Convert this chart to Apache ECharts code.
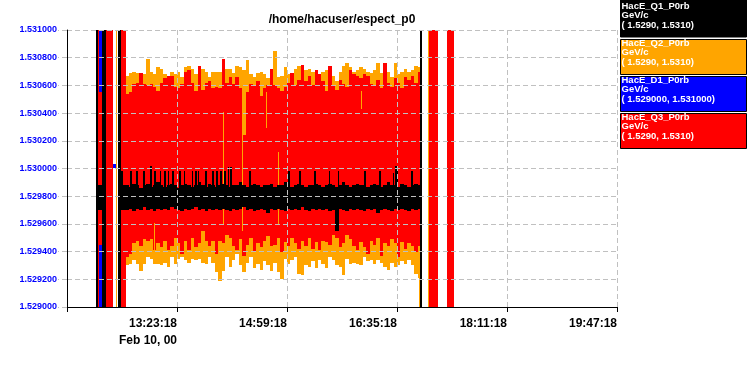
<!DOCTYPE html>
<html><head><meta charset="utf-8">
<script src="https://cdn.jsdelivr.net/npm/echarts@6/dist/echarts.min.js"></script>
<style>html,body{margin:0;padding:0;background:#fff;}#c{width:748px;height:375px;}</style>
</head><body><div id="c"></div>
<script>
// ---------- text ----------
const chartTitle = '/home/hacuser/espect_p0';
// x values are minutes after 11:47:18 (Feb 10, 00)
const xTickLabels = ['', '13:23:18', '14:59:18', '16:35:18', '18:11:18', '19:47:18'];
const xDateLabel = 'Feb 10, 00';
const yTickLabels = ['1.529000','1.529200','1.529400','1.529600','1.529800','1.530000','1.530200','1.530400','1.530600','1.530800','1.531000'];
const legendNames = ['HacE_Q1_P0rb', 'HacE_Q2_P0rb', 'HacE_D1_P0rb', 'HacE_Q3_P0rb'];
const legendUnits = ['GeV/c', 'GeV/c', 'GeV/c', 'GeV/c'];
const legendRanges = ['( 1.5290, 1.5310)', '( 1.5290, 1.5310)', '( 1.529000, 1.531000)', '( 1.5290, 1.5310)'];
const seriesColors = ['#000000', '#ffa500', '#0000ff', '#ff0000'];

// ---------- data: envelope of each 3-minute bin (min / max reading) ----------
const binStart = 51;
const binStep = 3;
const q3Hi = [1.53054,1.53055,1.53061,1.53062,1.53069,1.53061,1.53060,1.53061,1.53059,1.53056,1.53062,1.53065,1.53067,1.53067,1.53059,1.53058,1.53061,1.53070,1.53071,1.53062,1.53056,1.53074,1.53057,1.53062,1.53063,1.53058,1.53059,1.53058,
  1.53079,1.53062,1.53066,1.53061,1.53066,1.53058,1.53024,1.53055,1.53061,1.53060,1.53063,1.53052,1.53058,1.53060,1.53072,1.53060,1.53058,1.53056,1.53059,1.53062,1.53069,1.53060,1.53064,1.53075,1.53063,1.53067,1.53060,1.53071,
  1.53068,1.53063,1.53056,1.53074,1.53060,1.53057,1.53064,1.53061,1.53059,1.53071,1.53068,1.53067,1.53065,1.53068,1.53067,1.53061,1.53060,1.53064,1.53058,1.53076,1.53062,1.53059,1.53065,1.53062,1.53058,1.53066,1.53064,1.53067,1.53062,1.53070];
const q3Lo = [1.52936,1.52938,1.52946,1.52948,1.52944,1.52949,1.52948,1.52949,1.52941,1.52946,1.52943,1.52948,1.52941,1.52944,1.52950,1.52946,1.52938,1.52948,1.52941,1.52950,1.52943,1.52946,1.52955,1.52948,1.52944,1.52948,1.52938,1.52948,
  1.52946,1.52952,1.52950,1.52944,1.52941,1.52949,1.52937,1.52945,1.52950,1.52940,1.52946,1.52943,1.52948,1.52951,1.52944,1.52945,1.52950,1.52940,1.52947,1.52944,1.52950,1.52946,1.52942,1.52948,1.52944,1.52950,1.52942,1.52947,
  1.52941,1.52948,1.52947,1.52945,1.52952,1.52950,1.52943,1.52946,1.52952,1.52949,1.52944,1.52941,1.52947,1.52943,1.52938,1.52948,1.52945,1.52950,1.52937,1.52946,1.52944,1.52949,1.52946,1.52936,1.52947,1.52942,1.52946,1.52944,1.52940,1.52944];
const q2Hi = [1.53067,1.53069,1.53070,1.53069,1.53067,1.53068,1.53079,1.53070,1.53068,1.53073,1.53072,1.53068,1.53067,1.53070,1.53068,1.53070,1.53066,1.53073,1.53074,1.53072,1.53068,1.53068,1.53072,1.53070,1.53066,1.53070,1.53070,1.53070,
  1.53070,1.53072,1.53072,1.53069,1.53074,1.53073,1.53071,1.53078,1.53068,1.53066,1.53069,1.53070,1.53068,1.53065,1.53072,1.53085,1.53066,1.53067,1.53073,1.53068,1.53069,1.53072,1.53074,1.53075,1.53071,1.53072,1.53070,1.53071,
  1.53068,1.53070,1.53071,1.53074,1.53067,1.53063,1.53070,1.53074,1.53076,1.53073,1.53070,1.53071,1.53073,1.53072,1.53070,1.53069,1.53071,1.53076,1.53069,1.53076,1.53070,1.53066,1.53076,1.53068,1.53070,1.53072,1.53070,1.53071,1.53074,1.53073];
const q2Lo = [1.52930,1.52931,1.52934,1.52931,1.52926,1.52931,1.52936,1.52935,1.52931,1.52931,1.52930,1.52932,1.52929,1.52936,1.52931,1.52935,1.52936,1.52934,1.52932,1.52935,1.52934,1.52935,1.52932,1.52931,1.52936,1.52932,1.52925,1.52919,
  1.52926,1.52936,1.52929,1.52934,1.52938,1.52930,1.52925,1.52932,1.52936,1.52928,1.52931,1.52927,1.52933,1.52930,1.52926,1.52932,1.52925,1.52920,1.52935,1.52931,1.52934,1.52936,1.52924,1.52923,1.52930,1.52929,1.52933,1.52928,
  1.52934,1.52931,1.52928,1.52936,1.52934,1.52930,1.52929,1.52923,1.52935,1.52931,1.52932,1.52931,1.52930,1.52936,1.52933,1.52934,1.52931,1.52934,1.52932,1.52929,1.52927,1.52932,1.52929,1.52930,1.52933,1.52931,1.52934,1.52930,1.52924,1.52921];
const q1Hi = [1.52988,1.52987,1.52989,1.52988,1.52986,1.52988,1.52989,1.52987,1.52988,1.52990,1.52988,1.52987,1.52988,1.52989,1.52988,1.52986,1.52988,1.52989,1.52988,1.52987,1.52988,1.52990,1.52988,1.52987,1.52989,1.52988,1.52987,1.52988,
  1.52989,1.52988,1.52987,1.52988,1.52988,1.52990,1.52988,1.52987,1.52988,1.52989,1.52988,1.52987,1.52988,1.52988,1.52989,1.52987,1.52988,1.52988,1.52990,1.52988,1.52987,1.52988,1.52989,1.52988,1.52987,1.52988,1.52988,1.52989,
  1.52988,1.52987,1.52988,1.52989,1.52988,1.52987,1.52988,1.52990,1.52988,1.52987,1.52988,1.52989,1.52988,1.52988,1.52987,1.52988,1.52989,1.52988,1.52987,1.52988,1.52990,1.52988,1.52988,1.52987,1.52989,1.52988,1.52987,1.52988,1.52989,1.52988];
const q1Lo = [1.52970,1.52971,1.52969,1.52971,1.52970,1.52972,1.52970,1.52971,1.52969,1.52971,1.52970,1.52971,1.52970,1.52972,1.52971,1.52970,1.52969,1.52971,1.52970,1.52971,1.52972,1.52970,1.52971,1.52969,1.52971,1.52970,1.52971,1.52970,
  1.52971,1.52970,1.52969,1.52971,1.52970,1.52971,1.52972,1.52970,1.52971,1.52969,1.52970,1.52971,1.52970,1.52968,1.52971,1.52970,1.52971,1.52970,1.52969,1.52971,1.52970,1.52971,1.52970,1.52972,1.52970,1.52969,1.52971,1.52970,
  1.52971,1.52970,1.52971,1.52969,1.52970,1.52955,1.52971,1.52970,1.52969,1.52971,1.52970,1.52971,1.52970,1.52969,1.52971,1.52970,1.52971,1.52968,1.52970,1.52971,1.52970,1.52969,1.52971,1.52970,1.52971,1.52970,1.52969,1.52971,1.52970,1.52971];

// short upward excursions of Q1: time (min) and peak value
const q1SpikeT = [47.0,55.2,60.5,66.2,72.7,76.2,80.8,84.9,87.8,91.9,97.7,101.8,108.7,111.6,114.0,120.4,126.8,130.3,133.8,137.3,140.2,142.0,159.1,193.1,202.7,215.8,228.3,236.2,259.5,272.0,284.2,286.0,287.5,300.2];
const q1SpikeHi = [1.52998,1.52998,1.52998,1.52998,1.53002,1.52998,1.52998,1.52998,1.52998,1.52998,1.52998,1.52998,1.52998,1.52998,1.52998,1.52998,1.52998,1.52998,1.52998,1.52998,1.53001,1.53001,1.52998,1.52998,1.52998,1.52998,1.52998,1.52998,1.52998,1.52998,1.52997,1.53002,1.53002,1.52998];
// short Q2 excursions: [time, low, high]
const q2Spikes = [[75.6,1.52941,1.52961],[136.1,1.52959,1.53041],[152.8,1.52955,1.53040],[173.6,1.53029,1.53055],[183.8,1.52959,1.53012],[256.5,1.53043,1.53056]];

// dropouts / off-scale readings: [tStart, tEnd, low, high]
const q1Segments = [[24.96,26.7,1.5280,1.5320],[30.2,33.7,1.5280,1.5320],[44.2,46.8,1.5280,1.5320],[308.0,310.0,1.5280,1.5320],[24.96,33.7,1.52970,1.52988],[46.8,51.0,1.52970,1.52988]];
const q2Segments = [[43.0,43.9,1.5280,1.5320],[314.7,315.6,1.5280,1.5320],[307.4,308.0,1.5280,1.52960]];
const d1Segments = [[27.6,30.2,1.5280,1.5320],[40.1,42.9,1.53000,1.53003]];
const q3Segments = [[26.7,27.6,1.5280,1.5320],[26.7,30.2,1.52945,1.53055],[33.7,39.8,1.5280,1.5320],[46.8,51.1,1.5280,1.5320],[315.6,323.5,1.5280,1.5320],[331.3,337.4,1.5280,1.5320]];

// ---------- build items ----------
function binItems(lo, hi) {
  return lo.map((v, i) => [binStart + i * binStep, binStart + (i + 1) * binStep, v, hi[i]]);
}
const q1Items = q1Segments.concat(binItems(q1Lo, q1Hi), q1SpikeT.map((t, i) => [t, t + 1.6, 1.52980, q1SpikeHi[i]]));
const q2Items = q2Segments.concat(binItems(q2Lo, q2Hi));
const q3Items = q3Segments.concat(binItems(q3Lo, q3Hi));
const q2SpikeItems = q2Spikes.map(s => [s[0], s[0] + 0.9, s[1], s[2]]);

function renderSpan(params, api) {
  const t0 = api.value(0), t1 = api.value(1), lo = api.value(2), hi = api.value(3);
  const p0 = api.coord([t0, hi]);
  const p1 = api.coord([t1, lo]);
  const cs = params.coordSys;
  const x0 = Math.round(p0[0]), x1 = Math.max(Math.round(p1[0]), x0 + 1);
  const y0 = Math.round(p0[1]), y1 = Math.max(Math.round(p1[1]), y0 + 1);
  const r = echarts.graphic.clipRectByRect(
    {x: x0, y: y0, width: x1 - x0, height: y1 - y0},
    {x: Math.round(cs.x), y: Math.round(cs.y), width: Math.round(cs.width), height: Math.round(cs.height)});
  return r && {type: 'rect', shape: r, style: {fill: api.visual('color'), stroke: null}};
}
function spanSeries(name, color, data, z) {
  return {name, type: 'custom', renderItem: renderSpan, data, z,
    itemStyle: {color}, encode: {x: [0, 1], y: [2, 3]}, animation: false, silent: true};
}

const FONT = 'Liberation Sans';
const legendGraphics = [];
legendNames.forEach((n, i) => {
  const top = 2 + 37 * i;
  legendGraphics.push({type: 'rect', shape: {x: 620.5, y: i === 0 ? -1 : top + 0.5, width: 126, height: i === 0 ? 38 : 35},
    style: {fill: seriesColors[i], stroke: '#000', lineWidth: 1}, z: 20});
  legendGraphics.push({type: 'text', x: 621.5, y: top - 0.5, z: 21,
    style: {text: n + '\n' + legendUnits[i] + '\n' + legendRanges[i], fill: '#fff',
      font: 'bold 9.5px "' + FONT + '"', lineHeight: 9.5, verticalAlign: 'top', align: 'left'}});
});

const chart = echarts.init(document.getElementById('c'), null, {renderer: 'canvas'});
chart.setOption({
  animation: false,
  backgroundColor: '#ffffff',
  textStyle: {fontFamily: FONT},
  grid: {left: 67, right: 131, top: 30, bottom: 68, containLabel: false},
  xAxis: {
    type: 'value', min: 0, max: 480, interval: 96, z: 10,
    axisLine: {show: true, onZero: false, lineStyle: {color: '#000', width: 1}},
    axisTick: {show: true, length: 5, lineStyle: {color: '#000'}},
    axisLabel: {
      formatter: v => { const i = Math.round(v / 96); let s = xTickLabels[i] || ''; if (i === 1) s += '\n' + xDateLabel; return s; },
      align: 'right', color: '#000', fontWeight: 'bold', fontSize: 12, margin: 8, lineHeight: 17,
      showMinLabel: true, showMaxLabel: true, fontFamily: FONT
    },
    splitLine: {show: true, lineStyle: {color: '#c0c0c0', type: [5, 3]}}
  },
  yAxis: {
    type: 'value', min: 1.529, max: 1.531, interval: 0.0002, z: 10,
    axisLine: {show: true, lineStyle: {color: '#000', width: 1}},
    axisTick: {show: true, length: 9, lineStyle: {color: '#c0c0c0', type: [5, 3]}},
    axisLabel: {formatter: v => yTickLabels[Math.round((v - 1.529) / 0.0002)] || '', color: '#0000ff', fontWeight: 'bold', fontSize: 9, margin: 10, fontFamily: FONT},
    splitLine: {show: true, lineStyle: {color: '#c0c0c0', type: [5, 3]}}
  },
  series: [
    spanSeries(legendNames[2], seriesColors[2], d1Segments, 2),
    spanSeries(legendNames[1], seriesColors[1], q2Items, 3),
    spanSeries(legendNames[3], seriesColors[3], q3Items, 4),
    spanSeries(legendNames[1] + ' ', seriesColors[1], q2SpikeItems, 5),
    spanSeries(legendNames[0], seriesColors[0], q1Items, 6)
  ],
  graphic: [
    {type: 'text', x: 342, y: 20, z: 20, style: {text: chartTitle, fill: '#000', font: 'bold 12px "' + FONT + '"', align: 'center', verticalAlign: 'middle'}}
  ].concat(legendGraphics)
});
</script></body></html>
